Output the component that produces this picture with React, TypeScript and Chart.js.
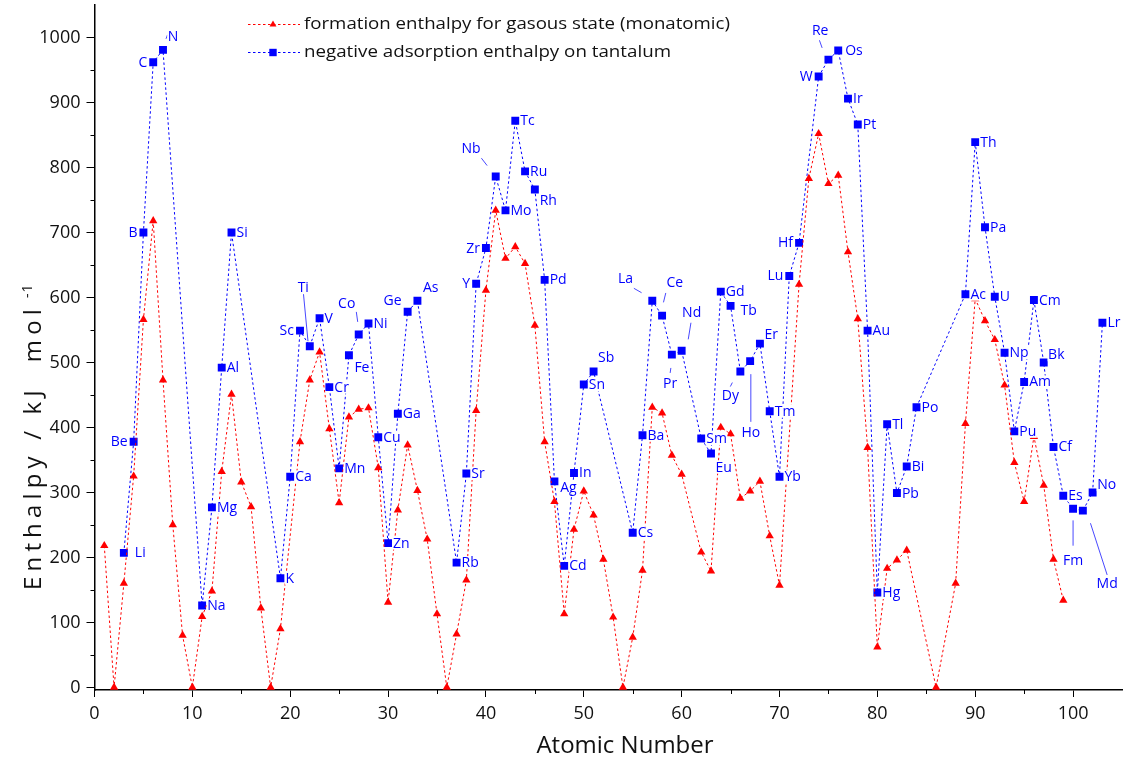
import React, { useEffect, useRef } from 'react';
import { Chart, registerables } from 'chart.js';

Chart.register(...registerables);

// ---------------- data ----------------
const formationZ = [
  1, 2, 3, 4, 5, 6, 7, 8, 9, 10, 11, 12, 13, 14, 15, 16, 17, 18, 19, 21, 22, 23, 24, 25, 26, 27, 28, 29, 30,
  31, 32, 33, 34, 35, 36, 37, 38, 39, 40, 41, 42, 43, 44, 45, 46, 47, 48, 49, 50, 51, 52, 53, 54, 55, 56,
  57, 58, 59, 60, 62, 63, 64, 65, 66, 67, 68, 69, 70, 72, 73, 74, 75, 76, 77, 78, 79, 80, 81, 82, 83, 86,
  88, 89, 90, 91, 92, 93, 94, 95, 96, 97, 98, 99,
];
const formationValues = [
  218, 0, 160, 325, 566, 718, 473, 250, 80, 0, 109, 148, 332, 451, 316, 278, 122, 0, 90, 378, 473, 516, 398,
  284, 416, 428, 430, 338, 131, 273, 373, 303, 228, 113, 0, 82, 165, 426, 611, 734, 660, 678, 652, 557, 378,
  286, 113, 243, 302, 265, 197, 108, 0, 77, 180, 431, 422, 357, 328, 208, 179, 400, 390, 291, 302, 317, 233,
  157, 620, 783, 852, 775, 788, 670, 567, 369, 62, 183, 196, 211, 0, 160, 406, 598, 564, 535, 465, 346, 286,
  386, 311, 197, 134,
];

const adsorptionSymbols = [
  'Li', 'Be', 'B', 'C', 'N', 'Na', 'Mg', 'Al', 'Si', 'K', 'Ca', 'Sc', 'Ti', 'V', 'Cr', 'Mn', 'Fe', 'Co', 'Ni',
  'Cu', 'Zn', 'Ga', 'Ge', 'As', 'Rb', 'Sr', 'Y', 'Zr', 'Nb', 'Mo', 'Tc', 'Ru', 'Rh', 'Pd', 'Ag', 'Cd', 'In',
  'Sn', 'Sb', 'Cs', 'Ba', 'La', 'Ce', 'Pr', 'Nd', 'Sm', 'Eu', 'Gd', 'Tb', 'Dy', 'Ho', 'Er', 'Tm', 'Yb', 'Lu',
  'Hf', 'W', 'Re', 'Os', 'Ir', 'Pt', 'Au', 'Hg', 'Tl', 'Pb', 'Bi', 'Po', 'Ac', 'Th', 'Pa', 'U', 'Np', 'Pu',
  'Am', 'Cm', 'Bk', 'Cf', 'Es', 'Fm', 'Md', 'No', 'Lr',
];
const adsorptionZ = [
  3, 4, 5, 6, 7, 11, 12, 13, 14, 19, 20, 21, 22, 23, 24, 25, 26, 27, 28, 29, 30, 31, 32, 33, 37, 38, 39, 40,
  41, 42, 43, 44, 45, 46, 47, 48, 49, 50, 51, 55, 56, 57, 58, 59, 60, 62, 63, 64, 65, 66, 67, 68, 69, 70, 71,
  72, 74, 75, 76, 77, 78, 79, 80, 81, 82, 83, 84, 89, 90, 91, 92, 93, 94, 95, 96, 97, 98, 99, 100, 101, 102,
  103,
];
const adsorptionValues = [
  207, 378, 700, 962, 981, 126, 277, 492, 700, 168, 324, 549, 525, 568, 462, 337, 511, 543, 560, 385, 222,
  421, 578, 595, 192, 329, 621, 676, 786, 734, 872, 794, 766, 627, 317, 187, 330, 466, 486, 238, 388, 595,
  572, 512, 518, 383, 360, 609, 587, 486, 502, 529, 425, 324, 633, 684, 940, 966, 980, 906, 866, 549, 146,
  405, 299, 340, 431, 605, 839, 708, 601, 515, 394, 470, 596, 500, 370, 295, 275, 272, 300, 561,
];

const xTickValues = [0, 10, 20, 30, 40, 50, 60, 70, 80, 90, 100];
const yTickValues = [0, 100, 200, 300, 400, 500, 600, 700, 800, 900, 1000];
const xMinorTicks = [5, 15, 25, 35, 45, 55, 65, 75, 85, 95];
const yMinorTicks = [50, 150, 250, 350, 450, 550, 650, 750, 850, 950];

const legendLabels = [
  'formation enthalpy for gasous state (monatomic)',
  'negative adsorption enthalpy on tantalum',
];
const xTitle = 'Atomic Number';
const yTitle = 'Enthalpy / kJ  mol';
const yTitleSup = '-1';

// ---------------- styling / label placement ----------------
const RED = '#ff0000';
const BLUE = '#0000ff';
const FONT = '"Open Sans", "Noto Sans", sans-serif';
const PLOT_LEFT = 94.5;
const PLOT_RIGHT = 1122;
const PLOT_TOP = 5;
const PLOT_BOTTOM = 690;

const leftLabels = new Set(['Be', 'B', 'C', 'Sc', 'Y', 'Zr', 'Lu', 'Hf', 'W']);
const rightShift: Record<string, number> = { Li: 11, Tb: 10, Os: 7 };
const rightDy: Record<string, number> = { Tb: 5 };
const placedLabels: Record<string, { dx: number; dy: number; leader?: number[] }> = {
  N: { dx: 10, dy: -13, leader: [3, -11, 4.5, -15] },
  Ti: { dx: -6.5, dy: -59, leader: [-6.3, -52, -1.8, -5] },
  Fe: { dx: 13, dy: 12 },
  Co: { dx: -12, dy: -31, leader: [-2.4, -22.6, -1, -12.6] },
  Ge: { dx: -15, dy: -11.7 },
  As: { dx: 13.3, dy: -13.4 },
  Nb: { dx: -24.6, dy: -28, leader: [-14.3, -18.4, -8.6, -11] },
  Rh: { dx: 13.4, dy: 11 },
  Ag: { dx: 14, dy: 6 },
  Sb: { dx: 12.6, dy: -13.7 },
  La: { dx: -26.7, dy: -21.7, leader: [-18.4, -12.4, -10.7, -8] },
  Ce: { dx: 12.7, dy: -32.7, leader: [3.7, -22.7, 1.4, -13.3] },
  Pr: { dx: -1.7, dy: 29, leader: [-1, 13.3, -1.7, 18.3] },
  Nd: { dx: 10, dy: -38, leader: [9.3, -28, 6.6, -11.4] },
  Eu: { dx: 12.7, dy: 13.7 },
  Dy: { dx: -10, dy: 24, leader: [-8, 11, -10, 15] },
  Ho: { dx: 0.7, dy: 71.5, leader: [0.7, 13, 0.7, 60.7] },
  Er: { dx: 11.2, dy: -9.5 },
  Re: { dx: -8.3, dy: -29, leader: [-9, -19.3, -6.3, -11.7] },
  Bk: { dx: 12.6, dy: -7.7 },
  Fm: { dx: 0, dy: 51.5, leader: [0, 11.7, 0, 37] },
  Md: { dx: 24.3, dy: 73.3, leader: [7.6, 12.6, 24.3, 64.3] },
  No: { dx: 14, dy: -7.8 },
};

function drawTriangle(ctx: CanvasRenderingContext2D, x: number, y: number, r: number) {
  ctx.beginPath();
  for (let i = 0; i < 3; i++) {
    const a = (i * 2 * Math.PI) / 3;
    const px = x + Math.sin(a) * r;
    const py = y - Math.cos(a) * r;
    if (i === 0) ctx.moveTo(px, py);
    else ctx.lineTo(px, py);
  }
  ctx.closePath();
  ctx.fill();
}

const overlayPlugin = {
  id: 'overlay',
  afterLayout(chart: any) {
    // pin the plot area to the reference frame
    const area = chart.chartArea;
    area.left = PLOT_LEFT;
    area.right = PLOT_RIGHT;
    area.top = PLOT_TOP;
    area.bottom = PLOT_BOTTOM;
    area.width = PLOT_RIGHT - PLOT_LEFT;
    area.height = PLOT_BOTTOM - PLOT_TOP;
    const xs = chart.scales.x;
    xs.left = PLOT_LEFT;
    xs.right = PLOT_RIGHT;
    xs.width = PLOT_RIGHT - PLOT_LEFT;
    xs.top = PLOT_BOTTOM;
    xs.bottom = 762;
    xs.height = 762 - PLOT_BOTTOM;
    xs.configure();
    const ys = chart.scales.y;
    ys.left = 0;
    ys.right = PLOT_LEFT;
    ys.width = PLOT_LEFT;
    ys.top = PLOT_TOP;
    ys.bottom = PLOT_BOTTOM;
    ys.height = PLOT_BOTTOM - PLOT_TOP;
    ys.configure();
  },
  afterDatasetsDraw(chart: any) {
    const ctx: CanvasRenderingContext2D = chart.ctx;
    const xs = chart.scales.x;
    const ys = chart.scales.y;
    ctx.save();
    ctx.font = `14px ${FONT}`;
    ctx.textBaseline = 'middle';
    adsorptionSymbols.forEach((sym, i) => {
      const px = xs.getPixelForValue(adsorptionZ[i]);
      const py = ys.getPixelForValue(adsorptionValues[i]);
      const w = ctx.measureText(sym).width;
      let left: number;
      let cy: number;
      const placed = placedLabels[sym];
      if (placed) {
        left = px + placed.dx - w / 2;
        cy = py + placed.dy;
        if (placed.leader) {
          const [x1, y1, x2, y2] = placed.leader;
          ctx.strokeStyle = 'rgba(40,40,255,0.85)';
          ctx.lineWidth = 1;
          ctx.setLineDash([]);
          ctx.beginPath();
          ctx.moveTo(px + x1, py + y1);
          ctx.lineTo(px + x2, py + y2);
          ctx.stroke();
        }
      } else if (leftLabels.has(sym)) {
        left = px - 6 - w;
        cy = py;
      } else {
        left = px + (rightShift[sym] ?? 5);
        cy = py + (rightDy[sym] ?? 0);
      }
      ctx.fillStyle = '#ffffff';
      ctx.fillRect(left - 0.5, cy - 6.5, w + 1, 13);
      ctx.fillStyle = BLUE;
      ctx.fillText(sym, left, cy + 0.5);
    });
    ctx.restore();
  },
  afterDraw(chart: any) {
    const ctx: CanvasRenderingContext2D = chart.ctx;
    const xs = chart.scales.x;
    const ys = chart.scales.y;
    const area = chart.chartArea;
    ctx.save();
    // minor ticks
    ctx.strokeStyle = '#000';
    ctx.lineWidth = 1;
    ctx.setLineDash([]);
    ctx.beginPath();
    yMinorTicks.forEach((v) => {
      const y = Math.round(ys.getPixelForValue(v)) + 0.5;
      ctx.moveTo(area.left - 4, y);
      ctx.lineTo(area.left, y);
    });
    xMinorTicks.forEach((v) => {
      const x = Math.round(xs.getPixelForValue(v)) + 0.5;
      ctx.moveTo(x, area.bottom);
      ctx.lineTo(x, area.bottom + 4);
    });
    ctx.stroke();

    // legend
    const legendY = [24.5, 52.5];
    const colors = [RED, BLUE];
    const targets = [426, 367];
    legendLabels.forEach((lab, i) => {
      const y = legendY[i];
      ctx.strokeStyle = colors[i];
      ctx.fillStyle = colors[i];
      ctx.lineWidth = 1;
      ctx.setLineDash([2.5, 2.5]);
      ctx.beginPath();
      ctx.moveTo(248, y);
      ctx.lineTo(300, y);
      ctx.stroke();
      ctx.setLineDash([]);
      if (i === 0) drawTriangle(ctx, 273, y, 4);
      else ctx.fillRect(273 - 3.7, y - 3.7, 7.4, 7.4);
      ctx.font = `17px ${FONT}`;
      ctx.textBaseline = 'middle';
      ctx.fillStyle = '#111';
      const w = ctx.measureText(lab).width;
      const s = targets[i] / w;
      ctx.save();
      ctx.translate(304, y);
      ctx.scale(s, 1);
      ctx.fillText(lab, 0, 0);
      ctx.restore();
    });

    // x title
    ctx.font = `24px ${FONT}`;
    ctx.textBaseline = 'alphabetic';
    ctx.textAlign = 'center';
    ctx.fillStyle = '#111';
    ctx.fillText(xTitle, 625, 753);

    // y title
    ctx.save();
    ctx.translate(41, 590);
    ctx.rotate(-Math.PI / 2);
    ctx.textAlign = 'left';
    ctx.font = `24px ${FONT}`;
    const w0 = ctx.measureText(yTitle).width;
    const ls = (286 - w0) / yTitle.length;
    (ctx as any).letterSpacing = `${ls}px`;
    ctx.fillText(yTitle, 0, 0);
    (ctx as any).letterSpacing = '1px';
    ctx.font = `14px ${FONT}`;
    ctx.fillText(yTitleSup, 292, -9);
    ctx.restore();

    ctx.restore();
  },
};

export default function App() {
  const canvasRef = useRef<HTMLCanvasElement | null>(null);

  useEffect(() => {
    document.body.style.margin = '0';
    const canvas = canvasRef.current;
    if (!canvas) return;
    const chart = new Chart(canvas, {
      type: 'line',
      data: {
        datasets: [
          {
            label: legendLabels[0],
            data: formationZ.map((z, i) => ({ x: z, y: formationValues[i] })),
            borderColor: RED,
            backgroundColor: RED,
            borderWidth: 1,
            borderDash: [2.5, 2.5],
            pointStyle: 'triangle',
            pointRadius: 4.8,
            pointBorderWidth: 0,
            pointHoverRadius: 4.8,
            tension: 0,
            spanGaps: true,
            fill: false,
          },
          {
            label: legendLabels[1],
            data: adsorptionZ.map((z, i) => ({ x: z, y: adsorptionValues[i] })),
            borderColor: BLUE,
            backgroundColor: BLUE,
            borderWidth: 1,
            borderDash: [2.5, 2.5],
            pointStyle: 'rect',
            pointRadius: 5.6,
            pointBorderWidth: 0,
            pointHoverRadius: 5.6,
            tension: 0,
            spanGaps: true,
            fill: false,
          },
        ],
      },
      options: {
        responsive: false,
        animation: false,
        devicePixelRatio: 1,
        layout: { padding: { top: 5, right: 2, left: 0, bottom: 0 } },
        plugins: {
          legend: { display: false },
          tooltip: { enabled: false },
          title: { display: false },
        },
        scales: {
          x: {
            type: 'linear',
            min: 0,
            max: 105,
            afterBuildTicks: (scale: any) => {
              scale.ticks = xTickValues.map((v) => ({ value: v }));
            },
            afterFit: (scale: any) => {
              scale.height = 72;
              scale.paddingLeft = 0;
              scale.paddingRight = 0;
              scale.paddingTop = 0;
              scale.paddingBottom = 0;
            },
            grid: {
              display: true,
              drawOnChartArea: false,
              drawTicks: true,
              tickLength: 7,
              color: '#000',
              lineWidth: 1,
            },
            border: { display: true, color: '#000', width: 1.5 },
            ticks: {
              autoSkip: false,
              maxRotation: 0,
              padding: 6,
              color: '#111',
              font: { family: FONT, size: 18 },
              callback: (v: any) => String(v),
            },
          },
          y: {
            type: 'linear',
            min: -4,
            max: 1050,
            afterBuildTicks: (scale: any) => {
              scale.ticks = yTickValues.map((v) => ({ value: v }));
            },
            afterFit: (scale: any) => {
              scale.width = 94.5;
              scale.paddingLeft = 0;
              scale.paddingRight = 0;
              scale.paddingTop = 0;
              scale.paddingBottom = 0;
            },
            grid: {
              display: true,
              drawOnChartArea: false,
              drawTicks: true,
              tickLength: 8,
              color: '#000',
              lineWidth: 1,
            },
            border: { display: true, color: '#000', width: 1.5 },
            ticks: {
              autoSkip: false,
              padding: 6,
              color: '#111',
              font: { family: FONT, size: 18 },
              callback: (v: any) => String(v),
            },
          },
        },
      },
      plugins: [overlayPlugin],
    });
    return () => {
      chart.destroy();
    };
  }, []);

  return (
    <div style={{ width: 1124, height: 762, position: 'relative', background: '#fff' }}>
      <canvas ref={canvasRef} width={1124} height={762} style={{ display: 'block', width: 1124, height: 762 }} />
    </div>
  );
}
